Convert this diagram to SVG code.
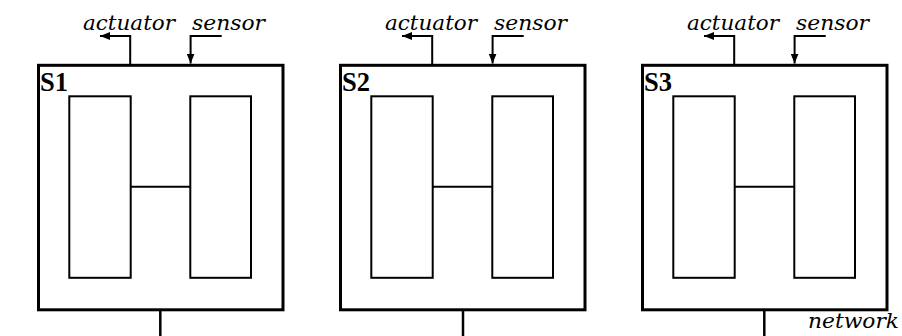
<svg xmlns="http://www.w3.org/2000/svg" width="902" height="336" viewBox="0 0 902 336">
<style>
.outer{fill:#fff;stroke:#000;stroke-width:3}
.inner{fill:#fff;stroke:#000;stroke-width:2}
.ln{fill:none;stroke:#000;stroke-width:2}
.bus{fill:none;stroke:#000;stroke-width:2.5}
.lbl{font-family:'DejaVu Serif','Liberation Serif',serif;font-style:italic;font-size:21px;fill:#000}
.name{font-family:'Liberation Serif','DejaVu Serif',serif;font-weight:bold;font-size:27px;fill:#000}
</style>
<defs>
<marker id="ah" markerUnits="userSpaceOnUse" markerWidth="11" markerHeight="8" refX="10" refY="4" orient="auto">
<path d="M0,0 L10,4 L0,8 Z" fill="#000"/>
</marker>
</defs>
<g id="S1">
<rect class="outer" x="38.5" y="65.3" width="244.5" height="244.5"/>
<rect class="inner" x="69.3" y="96.3" width="61.4" height="181.5"/>
<rect class="inner" x="190.3" y="96.3" width="60.7" height="181.5"/>
<line class="ln" x1="130.7" y1="186.7" x2="190.3" y2="186.7"/>
<text class="name" x="40" y="91" textLength="28" lengthAdjust="spacingAndGlyphs">S1</text>
</g>
<g id="S2" transform="translate(302,0)">
<rect class="outer" x="38.5" y="65.3" width="244.5" height="244.5"/>
<rect class="inner" x="69.3" y="96.3" width="61.4" height="181.5"/>
<rect class="inner" x="190.3" y="96.3" width="60.7" height="181.5"/>
<line class="ln" x1="130.7" y1="186.7" x2="190.3" y2="186.7"/>
<text class="name" x="40" y="91" textLength="28" lengthAdjust="spacingAndGlyphs">S2</text>
</g>
<g id="S3" transform="translate(604,0)">
<rect class="outer" x="38.5" y="65.3" width="244.5" height="244.5"/>
<rect class="inner" x="69.3" y="96.3" width="61.4" height="181.5"/>
<rect class="inner" x="190.3" y="96.3" width="60.7" height="181.5"/>
<line class="ln" x1="130.7" y1="186.7" x2="190.3" y2="186.7"/>
<text class="name" x="40" y="91" textLength="28" lengthAdjust="spacingAndGlyphs">S3</text>
</g>
<g id="connectors">
<g id="io1">
<path class="ln" d="M130.2,64 V36 H100" marker-end="url(#ah)"/>
<path class="ln" d="M221.7,36 H190.6 V63.5" marker-end="url(#ah)"/>
<text class="lbl" x="83" y="29.5" textLength="92" lengthAdjust="spacingAndGlyphs">actuator</text>
<text class="lbl" x="192" y="29.5" textLength="73" lengthAdjust="spacingAndGlyphs">sensor</text>
</g>
<g id="io2" transform="translate(302,0)">
<path class="ln" d="M130.2,64 V36 H100" marker-end="url(#ah)"/>
<path class="ln" d="M221.7,36 H190.6 V63.5" marker-end="url(#ah)"/>
<text class="lbl" x="83" y="29.5" textLength="92" lengthAdjust="spacingAndGlyphs">actuator</text>
<text class="lbl" x="192" y="29.5" textLength="73" lengthAdjust="spacingAndGlyphs">sensor</text>
</g>
<g id="io3" transform="translate(604,0)">
<path class="ln" d="M130.2,64 V36 H100" marker-end="url(#ah)"/>
<path class="ln" d="M221.7,36 H190.6 V63.5" marker-end="url(#ah)"/>
<text class="lbl" x="83" y="29.5" textLength="92" lengthAdjust="spacingAndGlyphs">actuator</text>
<text class="lbl" x="192" y="29.5" textLength="73" lengthAdjust="spacingAndGlyphs">sensor</text>
</g>
<line class="bus" x1="160.3" y1="311" x2="160.3" y2="336"/>
<line class="bus" x1="463" y1="311" x2="463" y2="336"/>
<line class="bus" x1="764.3" y1="311" x2="764.3" y2="336"/>
<text class="lbl" x="808" y="327.5" textLength="91" lengthAdjust="spacingAndGlyphs">network</text>
</g>
</svg>
